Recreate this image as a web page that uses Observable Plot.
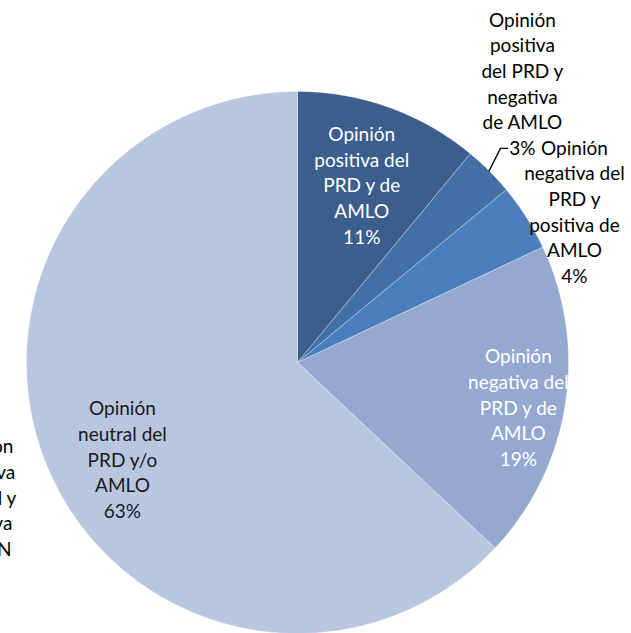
<!DOCTYPE html>
<html><head><meta charset="utf-8">
<script src="https://cdn.jsdelivr.net/npm/d3@7"></script>
<script src="https://cdn.jsdelivr.net/npm/@observablehq/plot@0.6"></script>
<style>body{margin:0;background:#fff}</style>
</head><body><div id="chart"></div>
<script>
// ---- data ----
const categories = [
  "Opinión\npositiva del\nPRD y de\nAMLO",
  "Opinión\npositiva\ndel PRD y\nnegativa\nde AMLO",
  "Opinión\nnegativa del\nPRD y\npositiva de\nAMLO",
  "Opinión\nnegativa del\nPRD y de\nAMLO",
  "Opinión\nneutral del\nPRD y/o\nAMLO"
];
const values = [11, 3, 4, 19, 63];
const clippedLabel = "Opinión\nnegativa\nneutral y\npositiva\nde PAN";

// ---- styles / layout (not data) ----
const colors = ["#3b5e8d", "#4370a7", "#4a7ebd", "#94a8d0", "#b9c6e0"];
const textColors = ["#ffffff", "#000000", "#000000", "#ffffff", "#1a1a1a"];
// inside labels: radial factor; outside / adjusted labels: anchor in data units
const labelLayout = [
  {inside: 0.70},
  {anchor: [0.83, 1.033], leader: [[0.749, 0.79], [0.775, 0.79]]},
  {anchor: [1.022, 0.561]},
  {anchor: [0.815, -0.162]},
  {anchor: [-0.646, -0.354]}
];
const clippedAnchor = [-1.172, -0.494];

const total = d3.sum(values);
let cum = 0;
const slices = values.map((v, i) => {
  const a0 = cum / total * 2 * Math.PI;
  cum += v;
  const a1 = cum / total * 2 * Math.PI;
  return {i, name: categories[i], value: v, a0, a1, mid: (a0 + a1) / 2};
});
const pt = (a, r) => [r * Math.sin(a), r * Math.cos(a)];

const polyPts = [];
for (const s of slices) {
  const n = Math.max(4, Math.ceil((s.a1 - s.a0) / (Math.PI / 360)));
  polyPts.push({k: s.i, x: 0, y: 0});
  for (let j = 0; j <= n; j++) {
    const [x, y] = pt(s.a0 + (s.a1 - s.a0) * j / n, 1);
    polyPts.push({k: s.i, x, y});
  }
  polyPts.push({k: s.i, x: 0, y: 0});
}

const labels = slices.map(s => {
  const L = labelLayout[s.i];
  const [x, y] = L.inside ? pt(s.mid, L.inside) : L.anchor;
  return {x, y, text: s.name + "\n" + s.value + "%", fill: textColors[s.i]};
});
labels.push({x: clippedAnchor[0], y: clippedAnchor[1], text: clippedLabel, fill: "#000000"});

const leaders = [];
slices.forEach(s => {
  const L = labelLayout[s.i];
  if (L.leader) {
    const [x0, y0] = pt(s.mid, 1.0);
    leaders.push({k: s.i, x: x0, y: y0});
    L.leader.forEach(([x, y]) => leaders.push({k: s.i, x, y}));
  }
});

const chart = Plot.plot({
  width: 631,
  height: 633,
  margin: 0,
  x: {domain: [-1, 1], range: [26, 568], axis: null},
  y: {domain: [-1, 1], range: [633, 91], axis: null},
  color: {domain: d3.range(values.length), range: colors},
  style: {background: "#ffffff", fontFamily: "Lato, 'Open Sans', sans-serif"},
  marks: [
    Plot.line(polyPts, {x: "x", y: "y", z: "k", fill: "k", stroke: "#ffffff", strokeWidth: 0.6, strokeOpacity: 0.5, curve: "linear"}),
    Plot.line(leaders, {x: "x", y: "y", z: "k", stroke: "#000000", strokeWidth: 1.3, curve: "linear"}),
    Plot.text(labels, {x: "x", y: "y", text: "text", fill: d => d.fill, fontSize: 19, lineHeight: 1.35, textAnchor: "middle"})
  ]
});
document.getElementById("chart").appendChild(chart);
</script>
</body></html>
